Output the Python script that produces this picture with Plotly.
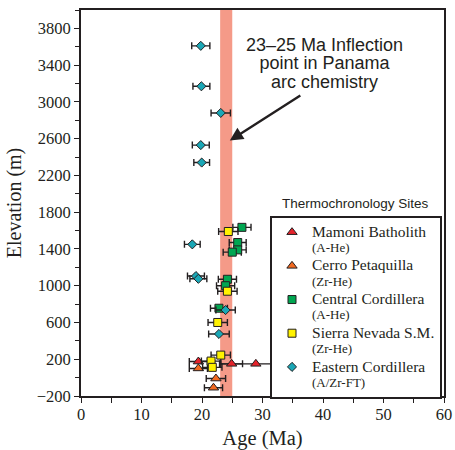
import plotly.graph_objects as go

# ---- data ----
mamoni_age = [19.4, 24.9, 28.9]
mamoni_elev = [175, 150, 150]
mamoni_err = [1.5, 1.8, 6.0]

cerro_age = [19.4, 22.3, 21.9]
cerro_elev = [100, -10, -110]
cerro_err = [1.5, 1.6, 1.5]

central_age = [26.6, 25.9, 25.9, 25.0, 24.2, 23.9, 22.8]
central_elev = [1635, 1470, 1390, 1365, 1070, 1000, 755]
central_err = [1.5, 1.4, 1.4, 1.5, 1.5, 1.5, 1.4]

sierra_age = [24.35, 24.2, 22.6, 23.1, 21.5, 21.7]
sierra_elev = [1590, 940, 600, 245, 180, 112]
sierra_err = [1.6, 1.6, 1.6, 1.6, 1.6, 1.6]

eastern_age = [19.8, 19.9, 23.1, 19.8, 19.95, 18.4, 19.0, 19.4, 23.9, 22.8]
eastern_elev = [3610, 3170, 2880, 2530, 2340, 1450, 1105, 1075, 735, 475]
eastern_err = [1.5, 1.4, 1.6, 1.4, 1.3, 1.3, 1.4, 1.4, 1.6, 1.7]

band_range = [23, 25]
x_ticks = [0, 10, 20, 30, 40, 50, 60]
y_ticks = [-200, 200, 600, 1000, 1400, 1800, 2200, 2600, 3000, 3400, 3800]

series = [
    ("Mamoni Batholith", "(A-He)", mamoni_age, mamoni_elev, mamoni_err, "triangle-up", "#E5232B", 9),
    ("Cerro Petaquilla", "(Zr-He)", cerro_age, cerro_elev, cerro_err, "triangle-up", "#F26A21", 9),
    ("Central Cordillera", "(A-He)", central_age, central_elev, central_err, "square", "#00A651", 8),
    ("Sierra Nevada S.M.", "(Zr-He)", sierra_age, sierra_elev, sierra_err, "square", "#FFF200", 8),
    ("Eastern Cordillera", "(A/Zr-FT)", eastern_age, eastern_elev, eastern_err, "diamond", "#1AA7B6", 7),
]

INK = "#231F20"
SERIF = "Liberation Serif, Times New Roman, serif"
SANS = "Liberation Sans, Arial, sans-serif"

fig = go.Figure()

for name, sub, ages, elevs, errs, sym, col, size in series:
    fig.add_trace(go.Scatter(
        x=ages, y=elevs, mode="markers",
        name=f"<span style='font-size:15.5px'>{name}</span><br><span style='font-size:13px'>{sub}</span>",
        marker=dict(symbol=sym, color=col, size=size, line=dict(color=INK, width=1)),
        error_x=dict(type="data", array=errs, color=INK, thickness=1.4, width=3.5),
    ))

fig.add_shape(type="rect", xref="x", yref="paper", x0=band_range[0], x1=band_range[1],
              y0=0, y1=1, fillcolor="#F59A88", line=dict(width=0), layer="below")

# arrow
fig.add_annotation(x=24.6, y=2580, ax=36.5, ay=3080, xref="x", yref="y", axref="x", ayref="y",
                   text="", showarrow=True, arrowhead=2, arrowsize=1.1, arrowwidth=2.4,
                   arrowcolor=INK)

fig.add_annotation(
    x=40.3, y=3420, xref="x", yref="y",
    text=("<span style='font-size:18px'>23\u201325 Ma Inflection</span><br>"
          "<span style='font-size:18px'>point in Panama</span><br>"
          "<span style='font-size:18px'>arc chemistry</span>"),
    showarrow=False, font=dict(family=SANS, size=14.2, color=INK),
    xanchor="center", yanchor="middle", align="center")

fig.add_annotation(x=0.757, y=0.5, xref="paper", yref="paper", text="Thermochronology Sites",
                   showarrow=False, font=dict(family=SANS, size=13.5, color=INK),
                   xanchor="center", yanchor="middle")

fig.update_layout(
    width=455, height=450,
    margin=dict(l=81, r=11, t=10, b=54, autoexpand=False),
    paper_bgcolor="white", plot_bgcolor="white",
    showlegend=True,
    legend=dict(x=0.5207, y=0.4663, xanchor="left", yanchor="top",
                bgcolor="white", bordercolor=INK, borderwidth=2,
                font=dict(family=SERIF, size=11.8, color=INK),
                valign="top", tracegroupgap=0),
    font=dict(family=SERIF, color=INK),
)

fig.update_xaxes(range=[0, 60], tickmode="array", tickvals=x_ticks, automargin=False,
                 ticks="outside", ticklen=5, tickwidth=1.2, tickcolor=INK,
                 minor=dict(dtick=5, tick0=0, ticks="outside", ticklen=5, tickwidth=1.2, tickcolor=INK),
                 showline=True, linewidth=2, linecolor=INK, mirror=True,
                 showgrid=False, zeroline=False, ticklabelstandoff=-3,
                 tickfont=dict(family=SERIF, size=16.5, color=INK),
                 title=dict(text="Age (Ma)", font=dict(family=SERIF, size=20.5, color=INK), standoff=8))

fig.update_yaxes(range=[-200, 4000], tickmode="array", tickvals=y_ticks, automargin=False,
                 ticks="outside", ticklen=5, tickwidth=1.2, tickcolor=INK,
                 minor=dict(dtick=200, tick0=-200, ticks="outside", ticklen=4, tickwidth=1.2, tickcolor=INK),
                 showline=True, linewidth=2, linecolor=INK, mirror=True,
                 showgrid=False, zeroline=False,
                 tickfont=dict(family=SERIF, size=16.5, color=INK),
                 title=dict(text="Elevation (m)", font=dict(family=SERIF, size=20, color=INK), standoff=10))

fig.write_html(
    "out.html",
    config={"displayModeBar": False},
    post_script=("document.body.style.margin='0';"
                 "document.body.style.overflow='hidden';"
                 "document.documentElement.style.overflow='hidden';"),
)
